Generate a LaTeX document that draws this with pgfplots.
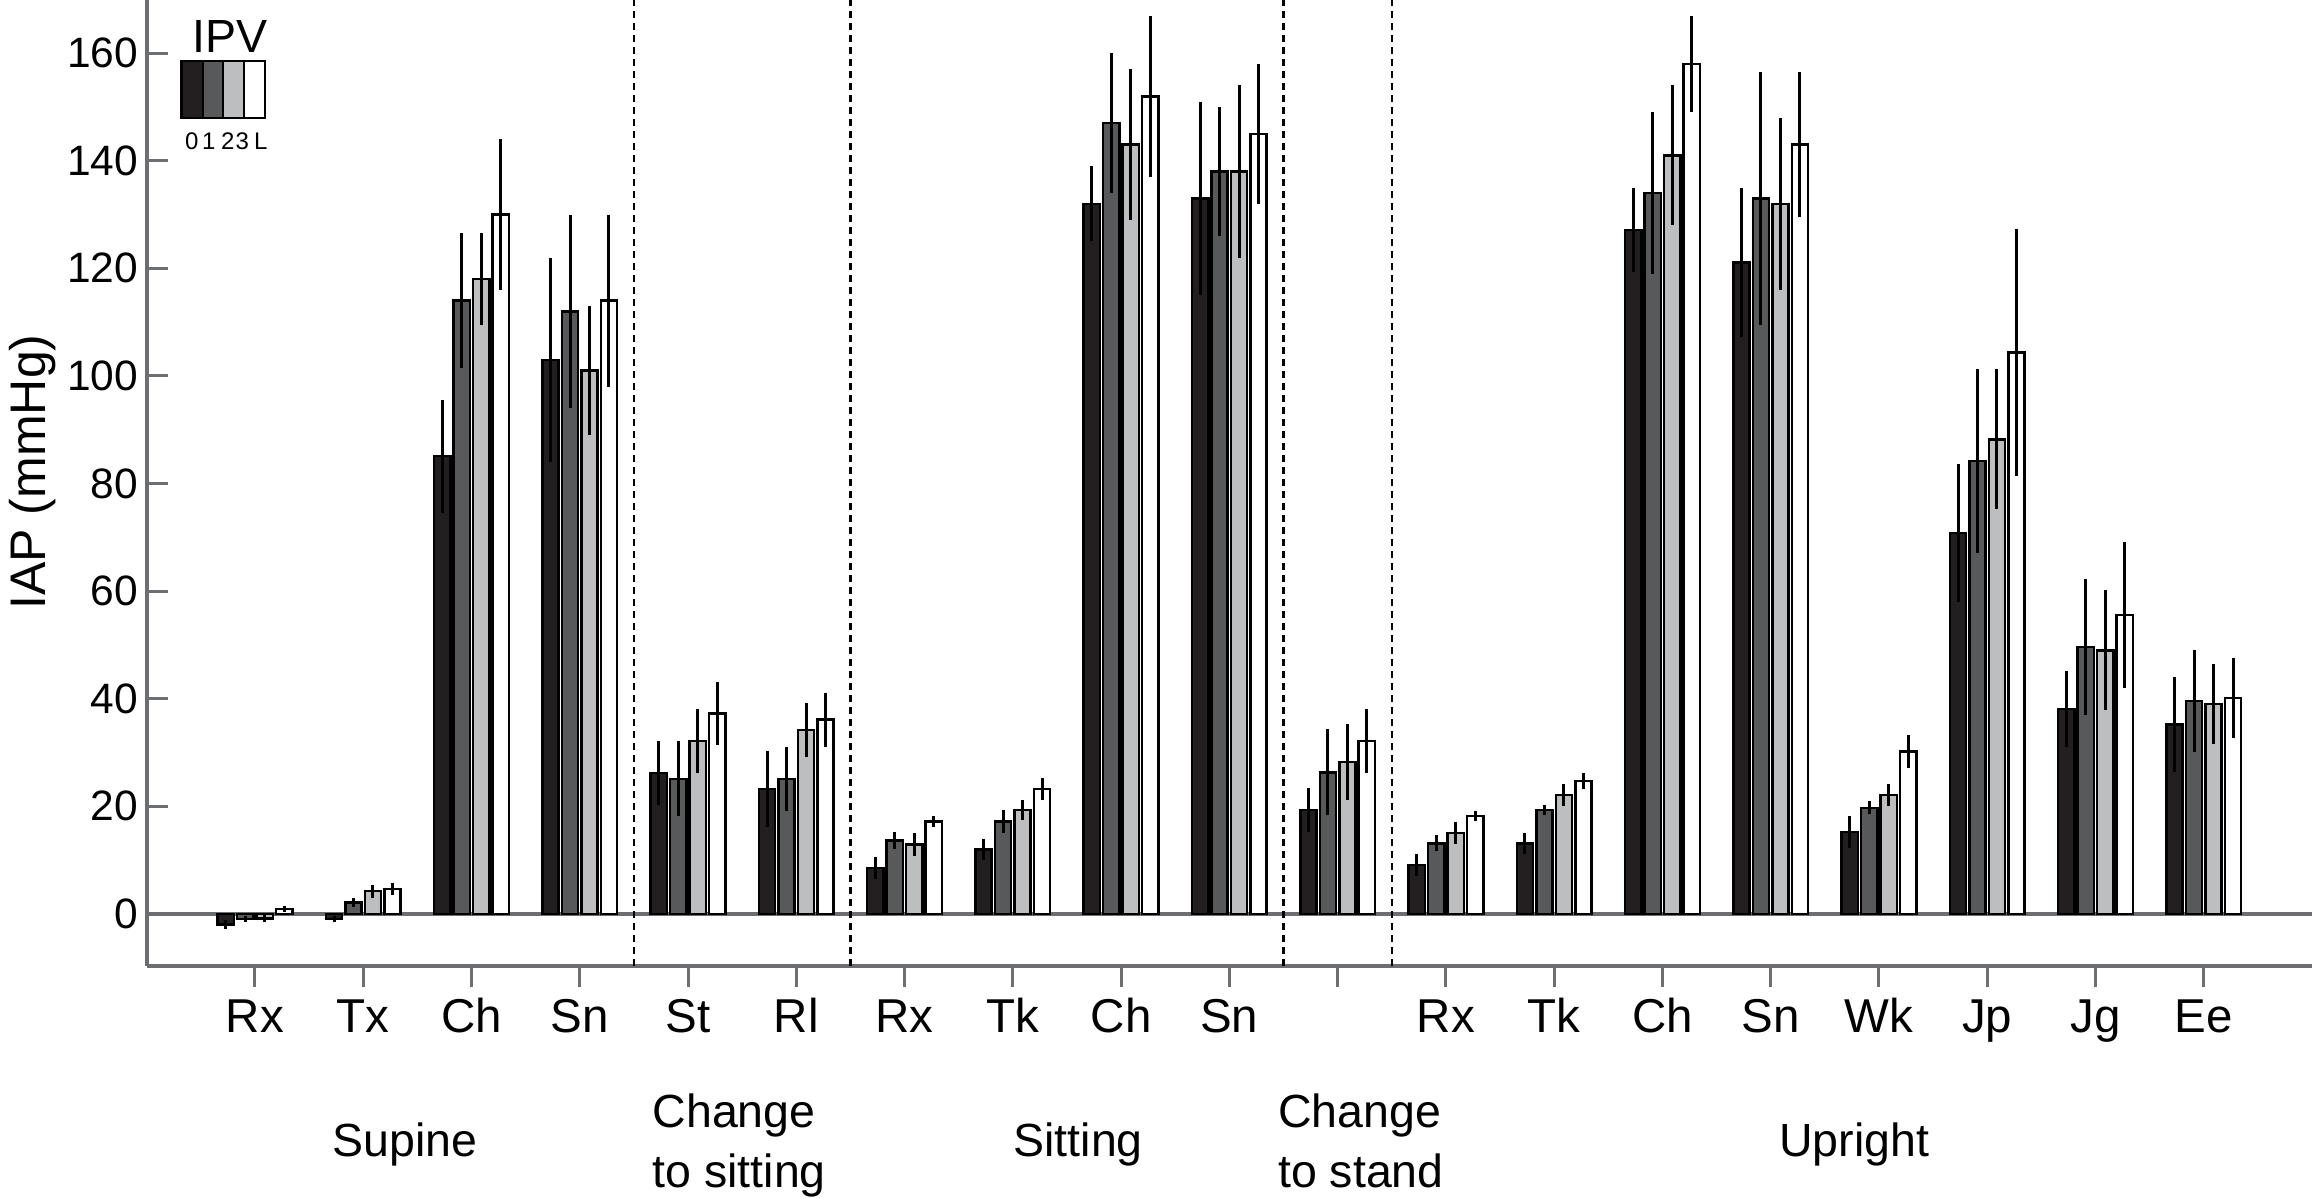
\documentclass[border=0pt]{standalone}
\usepackage{fontspec}
\setmainfont{Liberation Sans}
\usepackage{pgfplots}
\usepackage{pgfplotstable}
\pgfplotsset{compat=1.18}
\definecolor{ipv0}{HTML}{231F20}
\definecolor{ipv1}{HTML}{58595B}
\definecolor{ipv2}{HTML}{BCBEC0}
\definecolor{axisgray}{HTML}{6D6E71}

% x  mean  sd   (x = task position, 11 = change to stand)
\pgfplotstableread{
x y e
1 -2.0 0.9
2 -1.0 0.6
3 85.1 10.5
4 103.0 19
5 26.2 6
6 23.2 7
7 8.5 2
8 12.0 2
9 132.0 7
10 133.0 18
11 19.3 4
12 9.1 2
13 13.1 2
14 127.1 7.8
15 121.1 13.8
16 15.2 3
17 70.8 12.8
18 38.1 7
19 35.2 8.8
}\ipvzero
\pgfplotstableread{
x y e
1 -1.0 0.6
2 2.1 0.8
3 114 12.5
4 112 18
5 25.1 7
6 25.1 6
7 13.6 1.6
8 17.2 2.1
9 147 13
10 138 12
11 26.3 8
12 13.1 1.5
13 19.3 0.9
14 134 15
15 133 23.5
16 19.7 1.2
17 84.2 17.1
18 49.6 12.6
19 39.6 9.5
}\ipvone
\pgfplotstableread{
x y e
1 -0.85 0.6
2 4.2 1.2
3 118 8.5
4 101 12
5 32.1 6
6 34.2 5
7 12.9 2.1
8 19.3 1.9
9 143 14
10 138 16
11 28.2 7
12 15 2
13 22.1 2
14 141 13
15 132 16
16 22.1 2
17 88.2 13
18 49 11.2
19 39 7.5
}\ipvtwo
\pgfplotstableread{
x y e
1 0.9 0.6
2 4.6 1.1
3 130 14
4 114 16
5 37.2 5.9
6 36.1 5
7 17.2 1
8 23.2 2
9 152 15
10 145 13
11 32.1 5.9
12 18.2 1
13 24.7 1.5
14 158 9
15 143 13.5
16 30.2 3
17 104.4 23
18 55.6 13.6
19 40.1 7.5
}\ipvlast

\begin{document}
\begin{tikzpicture}
\begin{axis}[
  at={(0,0)}, anchor=south west,
  scale only axis,
  width=433.06pt, height=193.2pt,
  xmin=0, xmax=20, ymin=-9.7, ymax=169.9,
  axis lines*=left,
  axis line style={draw=axisgray, line width=0.8pt},
  xtick={1,...,19},
  xticklabels={Rx,Tx,Ch,Sn,St,Rl,Rx,Tk,Ch,Sn,{},Rx,Tk,Ch,Sn,Wk,Jp,Jg,Ee},
  ytick={0,20,...,160},
  tick align=inside,
  major tick length=4.3pt,
  tick style={draw=axisgray, line width=0.6pt},
  xticklabel style={font=\fontsize{9.5}{11}\selectfont, anchor=base, inner sep=0pt, yshift=-9pt},
  yticklabel style={font=\fontsize{8.5}{10}\selectfont, inner sep=1.5pt},
  /pgf/number format/assume math mode=true,
  ybar, bar width=0.15,
  clip=false,
  error bars/y dir=both,
  error bars/y explicit,
  error bars/error mark=none,
  error bars/error bar style={line width=0.6pt, black},
]
\draw[axisgray, line width=0.8pt] (axis cs:0,0) -- (axis cs:20,0);

\addplot[bar shift=-0.27, fill=ipv0, draw=black, line width=0.5pt]
  table[x=x, y=y, y error=e] {\ipvzero};
\addplot[bar shift=-0.09, fill=ipv1, draw=black, line width=0.5pt]
  table[x=x, y=y, y error=e] {\ipvone};
\addplot[bar shift=0.09, fill=ipv2, draw=black, line width=0.5pt]
  table[x=x, y=y, y error=e] {\ipvtwo};
\addplot[bar shift=0.27, fill=white, draw=black, line width=0.5pt]
  table[x=x, y=y, y error=e] {\ipvlast};

% phase dividers
\draw[black, line width=0.5pt, dash pattern=on 1.4pt off 1pt]
  (axis cs:4.5,-9.7) -- (axis cs:4.5,169.9)
  (axis cs:6.5,-9.7) -- (axis cs:6.5,169.9)
  (axis cs:10.5,-9.7) -- (axis cs:10.5,169.9)
  (axis cs:11.5,-9.7) -- (axis cs:11.5,169.9);
\end{axis}

% y label
\node[rotate=90, font=\fontsize{10}{12}\selectfont] at (-22.9pt,98.8pt) {IAP (mmHg)};

% phase labels
\begin{scope}[every node/.style={font=\fontsize{9.3}{11}\selectfont, inner sep=0pt}]
\node[anchor=base] at (51.6pt,-38.2pt) {Supine};
\node[anchor=base west] at (101pt,-32.4pt) {Change};
\node[anchor=base west] at (101pt,-44.4pt) {to sitting};
\node[anchor=base] at (186.3pt,-38.2pt) {Sitting};
\node[anchor=base west] at (226.1pt,-32.4pt) {Change};
\node[anchor=base west] at (226.1pt,-44.4pt) {to stand};
\node[anchor=base] at (341.5pt,-38.2pt) {Upright};
\end{scope}

% IPV key
\fill[ipv0] (7pt,169.6pt) rectangle (11.17pt,181pt);
\fill[ipv1] (11.17pt,169.6pt) rectangle (15.35pt,181pt);
\fill[ipv2] (15.35pt,169.6pt) rectangle (19.52pt,181pt);
\fill[white] (19.52pt,169.6pt) rectangle (23.7pt,181pt);
\draw[black, line width=0.4pt] (11.17pt,169.6pt) -- (11.17pt,181pt)
  (15.35pt,169.6pt) -- (15.35pt,181pt) (19.52pt,169.6pt) -- (19.52pt,181pt);
\draw[black, line width=0.5pt] (7pt,169.6pt) rectangle (23.7pt,181pt);
\node[anchor=base, inner sep=0pt, font=\fontsize{9.3}{11}\selectfont] at (16.7pt,182.6pt) {IPV};
\begin{scope}[every node/.style={anchor=base, inner sep=0pt, font=\fontsize{4.8}{5}\selectfont}]
\node at (9pt,163.2pt) {0};
\node at (12.4pt,163.2pt) {1};
\node at (16.2pt,163.2pt) {2};
\node at (19.1pt,163.2pt) {3};
\node at (22.8pt,163.2pt) {L};
\end{scope}

\pgfresetboundingbox
\useasboundingbox (-29.34pt,-46.4pt) rectangle (433.06pt,193.2pt);
\end{tikzpicture}
\end{document}
